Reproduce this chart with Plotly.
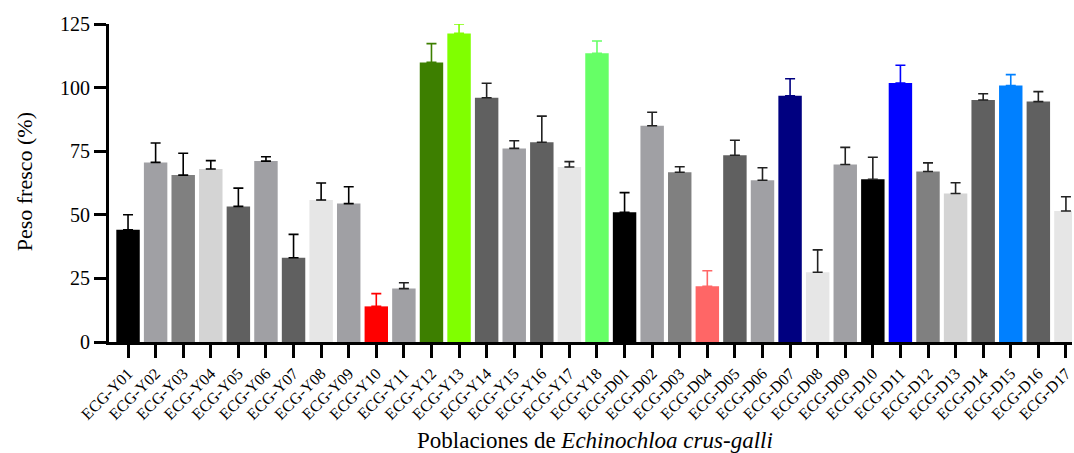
import plotly.graph_objects as go

categories = ["ECG-Y01","ECG-Y02","ECG-Y03","ECG-Y04","ECG-Y05","ECG-Y06","ECG-Y07","ECG-Y08","ECG-Y09",
              "ECG-Y10","ECG-Y11","ECG-Y12","ECG-Y13","ECG-Y14","ECG-Y15","ECG-Y16","ECG-Y17","ECG-Y18",
              "ECG-D01","ECG-D02","ECG-D03","ECG-D04","ECG-D05","ECG-D06","ECG-D07","ECG-D08","ECG-D09",
              "ECG-D10","ECG-D11","ECG-D12","ECG-D13","ECG-D14","ECG-D15","ECG-D16","ECG-D17"]
values = [44.1, 70.6, 65.6, 68.0, 53.3, 71.1, 33.1, 55.8, 54.4,
          14.0, 21.0, 109.9, 121.3, 96.0, 76.1, 78.5, 68.8, 113.5,
          51.0, 85.0, 66.7, 21.9, 73.4, 63.6, 96.8, 27.4, 69.8,
          64.0, 101.8, 67.0, 58.4, 95.1, 100.8, 94.5, 51.5]
errors = [5.9, 7.6, 8.6, 3.3, 7.2, 1.7, 9.2, 6.7, 6.6,
          5.0, 2.3, 7.4, 3.7, 5.7, 3.0, 10.3, 2.1, 4.8,
          7.7, 5.3, 2.2, 6.1, 5.9, 4.9, 6.7, 8.8, 6.7,
          8.6, 7.0, 3.4, 4.2, 2.5, 4.3, 3.9, 5.6]
bar_colors = ["#000000","#a0a0a4","#808080","#d4d4d4","#606060","#a0a0a4","#606060","#e6e6e6","#a0a0a4",
              "#ff0000","#a0a0a4","#3d7f00","#80ff00","#606060","#a0a0a4","#606060","#e6e6e6","#66ff66",
              "#000000","#a0a0a4","#808080","#ff6666","#606060","#a0a0a4","#000080","#e6e6e6","#a0a0a4",
              "#000000","#0000ff","#808080","#d4d4d4","#606060","#0080ff","#606060","#e6e6e6"]
err_colors = ["#000000"] * 9 + ["#ff0000","#222222","#3d7f00","#80ff00","#222222","#222222","#222222","#222222","#66ff66",
              "#000000","#222222","#222222","#ff6666","#222222","#222222","#000080","#222222","#222222",
              "#222222","#0000ff","#222222","#222222","#222222","#0080ff","#222222","#222222"]
y_ticks = [0, 25, 50, 75, 100, 125]

fig = go.Figure()
for cat, v, e, bc, ec in zip(categories, values, errors, bar_colors, err_colors):
    fig.add_trace(go.Bar(
        x=[cat], y=[v],
        marker=dict(color=bc, line=dict(width=0)),
        error_y=dict(type="data", array=[e], arrayminus=[0], symmetric=False,
                     color=ec, thickness=1.6, width=5),
        width=0.85,
        showlegend=False,
        cliponaxis=False,
    ))

font_family = "Liberation Serif"
fig.update_layout(
    width=1074, height=453,
    margin=dict(l=109, r=0, t=24, b=111),
    paper_bgcolor="white", plot_bgcolor="white",
    barmode="overlay",
    font=dict(family=font_family, color="black"),
    xaxis=dict(
        categoryorder="array", categoryarray=categories,
        range=[-0.69, 34.22],
        showline=True, linecolor="black", linewidth=3,
        ticks="outside", ticklen=13, tickwidth=3, tickcolor="black",
        tickangle=-45, tickfont=dict(size=16, family=font_family, color="black"),
        showgrid=False, zeroline=False,
    ),
    yaxis=dict(
        range=[0, 125], tickvals=y_ticks,
        showline=True, linecolor="black", linewidth=3,
        ticks="outside", ticklen=12, tickwidth=3, tickcolor="black",
        tickfont=dict(size=20, family=font_family, color="black"),
        showgrid=False, zeroline=False,
    ),
    annotations=[
        dict(text="Poblaciones de <i>Echinochloa crus-galli</i>", xref="paper", yref="paper",
             x=0.505, y=-0.311, showarrow=False, font=dict(size=23, family=font_family, color="black"),
             xanchor="center", yanchor="middle"),
        dict(text="Peso fresco (%)", xref="paper", yref="paper", textangle=-90,
             x=-0.088, y=0.503, showarrow=False, font=dict(size=22, family=font_family, color="black"),
             xanchor="center", yanchor="middle"),
    ],
)

fig.write_html("out.html")
